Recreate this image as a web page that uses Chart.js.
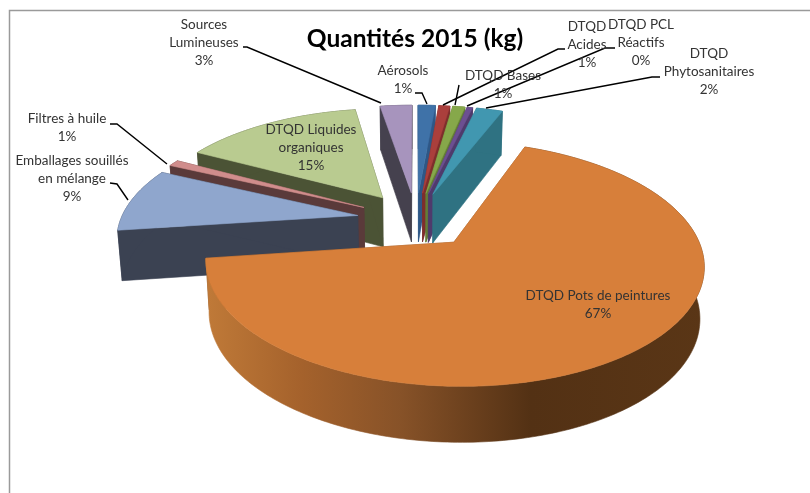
<!DOCTYPE html>
<html>
<head>
<meta charset="utf-8">
<style>
  html, body { margin: 0; padding: 0; background: #fff; }
  canvas { display: block; }
</style>
<script src="https://cdn.jsdelivr.net/npm/chart.js@4/dist/chart.umd.min.js"></script>
</head>
<body>
<canvas id="pie" width="810" height="493"></canvas>
<script>
const categories = [
  "Aérosols", "DTQD Acides", "DTQD Bases", "DTQD PCL Réactifs", "DTQD Phytosanitaires",
  "DTQD Pots de peintures", "Emballages souillés en mélange", "Filtres à huile",
  "DTQD Liquides organiques", "Sources Lumineuses",
];
const shares = [1.4, 0.9, 1.0, 0.45, 2.15, 67.0, 9.0, 0.9, 14.6, 2.6];
const topColors = ["#3F72A8", "#AA3F3C", "#86A84A", "#6C4F91", "#4197B0", "#D77F3A", "#8FA6CD", "#D08D8C", "#B9CB90", "#A794BD"];
const wallColors = ["#2E5786", "#7E2E2C", "#637D36", "#4F3A6C", "#2F7282", "#8A5226", "#3B4252", "#5A3A3A", "#4B5335", "#45414E"];

// label text lines (the percent is added from shares), anchor and leader line
const labelLayout = [
  { lines: ["Aérosols"], x: 403, y: 71, leader: [[415, 93], [422, 93], [427, 104]] },
  { lines: ["DTQD", "Acides"], x: 587, y: 27, leader: [[565, 49], [558, 49], [443, 105]] },
  { lines: ["DTQD Bases"], x: 503, y: 76, leader: [[459, 85], [455, 105]] },
  { lines: ["DTQD PCL", "Réactifs"], x: 641, y: 25, leader: [[615, 48], [605, 48], [467, 106]] },
  { lines: ["DTQD", "Phytosanitaires"], x: 709, y: 54, leader: [[660, 77], [652, 77], [486, 108]] },
  { lines: ["DTQD Pots de peintures"], x: 598, y: 296 },
  { lines: ["Emballages souillés", "en mélange"], x: 72, y: 161, leader: [[110, 183], [117, 184], [128, 200]] },
  { lines: ["Filtres à huile"], x: 67, y: 119, leader: [[110, 124], [117, 124], [167, 164]] },
  { lines: ["DTQD Liquides", "organiques"], x: 311, y: 130 },
  { lines: ["Sources", "Lumineuses"], x: 204, y: 25, leader: [[243, 47], [247, 47], [381, 103]] },
];

// perspective of the pie plane
const X0 = 416, Y0 = 219.6, SCALE_X = 237, SCALE_Y = 111, TILT = 0.17;

const project = (u, v, bottom) => {
  const w = 1 - TILT * v;
  let x = X0 + (SCALE_X * u) / w;
  let y = Y0 + (SCALE_Y * v) / w;
  if (bottom) {
    x = X0 + (x - X0) * 0.985;
    y += 50 + 5 * v;
  }
  return [x, y];
};

const fillPoly = (ctx, pts, color) => {
  ctx.beginPath();
  pts.forEach((p, i) => (i ? ctx.lineTo(p[0], p[1]) : ctx.moveTo(p[0], p[1])));
  ctx.closePath();
  ctx.fillStyle = color;
  ctx.strokeStyle = color;
  ctx.lineWidth = 0.6;
  ctx.fill();
  ctx.stroke();
};

// outline of one arc element in plane units, apex first
const sliceOutline = (arc) => {
  const { startAngle, endAngle, outerRadius } = arc.getProps(["startAngle", "endAngle", "outerRadius"]);
  const mid = (startAngle + endAngle) / 2;
  const push = arc.options.offset / 4 / outerRadius; // same explode rule as ArcElement.draw
  const cu = Math.cos(mid) * push;
  const cv = Math.sin(mid) * push;
  const pts = [[cu, cv]];
  const steps = Math.max(2, Math.ceil(((endAngle - startAngle) * 180) / Math.PI));
  for (let i = 0; i <= steps; i++) {
    const a = startAngle + ((endAngle - startAngle) * i) / steps;
    pts.push([cu + Math.cos(a), cv + Math.sin(a)]);
  }
  return pts;
};

const drawSlice = (ctx, arc, i) => {
  const pts = sliceOutline(arc);
  const apex = pts[0];
  const rim = pts.slice(1);
  let wall = wallColors[i];
  if (i === 5) {
    wall = ctx.createLinearGradient(205, 0, 706, 0);
    wall.addColorStop(0, "#C07A38");
    wall.addColorStop(0.19, "#A5622C");
    wall.addColorStop(0.39, "#875228");
    wall.addColorStop(0.65, "#533114");
    wall.addColorStop(1, "#5A3616");
  }
  // the two cut faces, then the rim as one piece so the gradient has no seams
  [rim[0], rim[rim.length - 1]].forEach((p) => {
    const face = [project(apex[0], apex[1]), project(p[0], p[1]), project(p[0], p[1], true), project(apex[0], apex[1], true)];
    fillPoly(ctx, face, wallColors[i === 5 ? 5 : i]);
  });
  const rimFace = [
    ...rim.map((p) => project(p[0], p[1])),
    ...rim.slice().reverse().map((p) => project(p[0], p[1], true)),
  ];
  fillPoly(ctx, rimFace, wall);
  fillPoly(ctx, pts.map((p) => project(p[0], p[1])), topColors[i]);
};

const pie3d = {
  id: "pie3d",
  beforeDatasetsDraw(chart) {
    const { ctx } = chart;
    const arcs = chart.getDatasetMeta(0).data;
    const order = arcs.map((arc, i) => i).sort((a, b) => {
      const depth = (k) => Math.sin((arcs[k].startAngle + arcs[k].endAngle) / 2);
      return depth(a) - depth(b);
    });
    ctx.save();
    order.forEach((i) => drawSlice(ctx, arcs[i], i));
    ctx.restore();
    return false;
  },
  afterDraw(chart) {
    const { ctx } = chart;
    const total = shares.reduce((a, b) => a + b, 0);
    ctx.save();
    ctx.strokeStyle = "#9A9A9A";
    ctx.lineWidth = 1.5;
    ctx.beginPath();
    ctx.moveTo(9.5, 493);
    ctx.lineTo(9.5, 10.5);
    ctx.lineTo(810, 10.5);
    ctx.stroke();

    ctx.textAlign = "center";
    ctx.textBaseline = "middle";
    ctx.fillStyle = "#000";
    ctx.font = "bold 24.5px Lato";
    ctx.fillText("Quantités 2015 (kg)", 415, 39);

    ctx.font = "13.5px Lato";
    labelLayout.forEach((label) => {
      if (label.leader) {
        ctx.strokeStyle = "#000";
        ctx.lineWidth = 1.4;
        ctx.beginPath();
        label.leader.forEach((p, k) => (k ? ctx.lineTo(p[0], p[1]) : ctx.moveTo(p[0], p[1])));
        ctx.stroke();
      }
    });
    labelLayout.forEach((label, i) => {
      ctx.fillStyle = "#333";
      const lines = [...label.lines, Math.round((shares[i] / total) * 100) + "%"];
      lines.forEach((line, k) => ctx.fillText(line, label.x, label.y + k * 17.8));
    });
    ctx.restore();
  },
};

new Chart(document.getElementById("pie"), {
  type: "pie",
  data: {
    labels: categories,
    datasets: [{ data: shares, backgroundColor: topColors, borderWidth: 0, offset: 100 }],
  },
  options: {
    responsive: false,
    animation: false,
    radius: 100,
    plugins: { legend: { display: false }, tooltip: { enabled: false } },
  },
  plugins: [pie3d],
});
</script>
</body>
</html>
